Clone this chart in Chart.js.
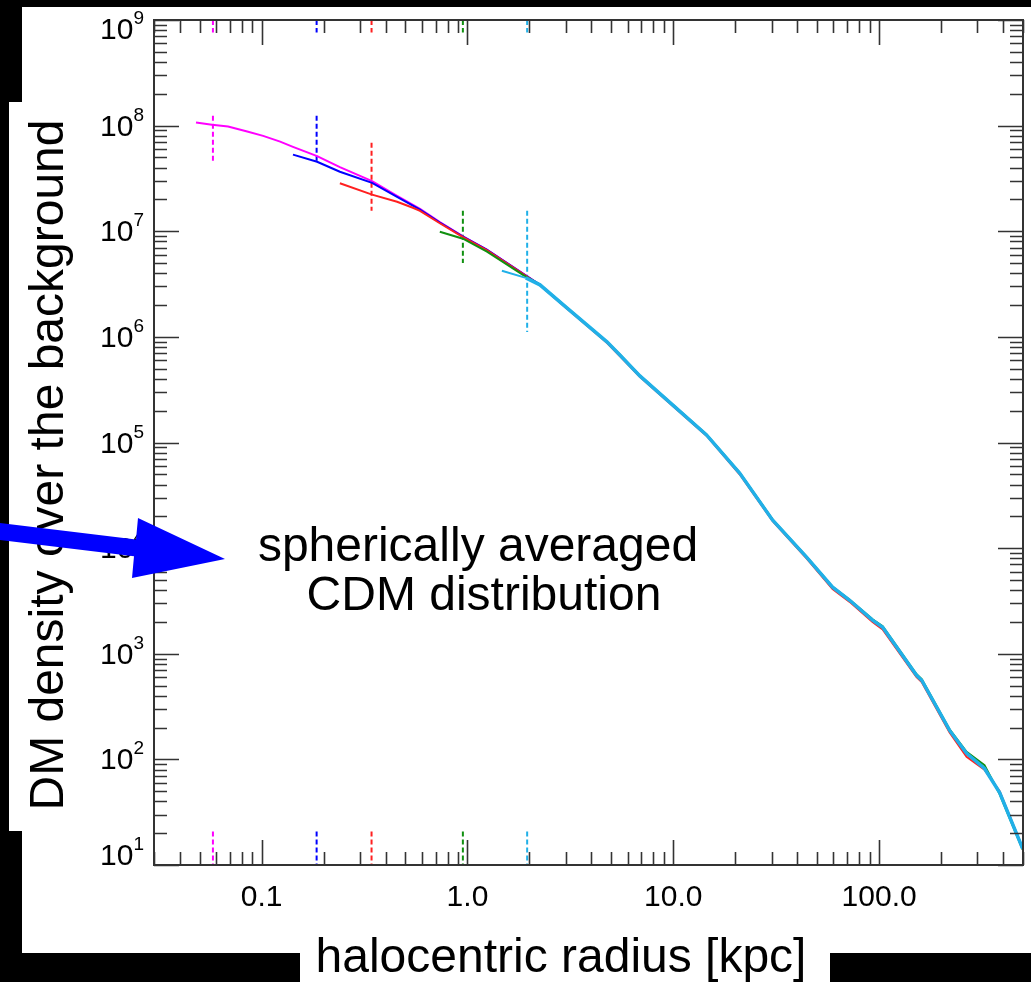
<!DOCTYPE html>
<html>
<head>
<meta charset="utf-8">
<script src="https://cdn.jsdelivr.net/npm/chart.js@4.4.0/dist/chart.umd.min.js"></script>
<style>
    html, body { margin: 0; padding: 0; background: #000; }
    canvas { display: block; }
</style>
</head>
<body>
<canvas id="profile" width="1031" height="982"></canvas>
<script>
// halocentric radius [kpc] / density over background
var magentaR   = [0.048, 0.0574, 0.0687, 0.0851, 0.1017, 0.123, 0.142, 0.168, 0.186, 0.24, 0.344, 0.455, 0.588, 0.734, 0.951, 1.24, 1.92];
var magentaRho = [1.07e8, 1.02e8, 9.8e7, 8.8e7, 8.0e7, 7.05e7, 6.3e7, 5.55e7, 5.15e7, 4.05e7, 2.98e7, 2.16e7, 1.63e7, 1.22e7, 8.95e6, 6.72e6, 3.82e6];
var blueR   = [0.142, 0.186, 0.24, 0.344, 0.455, 0.588, 0.734, 0.951, 1.24, 1.92];
var blueRho = [5.31e7, 4.55e7, 3.66e7, 2.87e7, 2.12e7, 1.60e7, 1.21e7, 8.9e6, 6.7e6, 3.8e6];
var redR   = [0.24, 0.344, 0.455, 0.543, 0.588, 0.734, 0.951, 1.24, 1.92];
var redRho = [2.85e7, 2.22e7, 1.90e7, 1.67e7, 1.56e7, 1.19e7, 8.8e6, 6.62e6, 3.78e6];
var greenR   = [0.734, 0.951, 1.244, 1.86];
var greenRho = [9.9e6, 8.5e6, 6.4e6, 3.87e6];
var cyanR   = [1.47, 1.92];
var cyanRho = [4.23e6, 3.62e6];

// outer part, where all runs lie on top of each other
var tailR        = [2.25, 3.04, 4.76, 5.50, 6.88, 9.95, 14.5, 21.0, 30.4, 44.4, 59.4, 71.9, 92.9, 104, 152, 161, 220, 266, 325, 385, 498];
var tailRho      = [3.11e6, 1.88e6, 8.97e5, 6.75e5, 4.27e5, 2.26e5, 1.18e5, 5.14e4, 1.84e4, 8.22e3, 4.27e3, 3.21e3, 2.08e3, 1.78e3, 625, 561, 188, 114, 82, 48.6, 14.3];
var redTailRho   = [3.08e6, 1.86e6, 8.8e5, 6.6e5, 4.2e5, 2.22e5, 1.16e5, 5.0e4, 1.80e4, 8.0e3, 4.1e3, 3.1e3, 2.0e3, 1.70e3, 600, 540, 180, 106, 80, 50, 14.5];
var greenTailRho = [3.13e6, 1.90e6, 9.0e5, 6.8e5, 4.3e5, 2.28e5, 1.19e5, 5.2e4, 1.86e4, 8.3e3, 4.3e3, 3.25e3, 2.12e3, 1.82e3, 640, 575, 192, 118, 88, 47, 14];

// dashed resolution markers
var markR    = [0.058, 0.185, 0.342, 0.95, 1.95];
var markLow  = [4.46e7, 4.55e7, 1.56e7, 5.0e6, 1.11e6];
var markHigh = [1.24e8, 1.24e8, 6.9e7, 1.56e7, 1.56e7];
var markTop    = [7.6e8, 1e9];
var markBottom = [10, 20.8];

var runColors = ['#ff00ff', '#0000ff', '#ff2020', '#109010', '#20b0e8'];

// axes
var xMin = 0.03, xMax = 500, yMin = 10, yMax = 1e9;
var xMajor = [0.1, 1, 10, 100];
var xLabels = ['0.1', '1.0', '10.0', '100.0'];
var yMajor = [10, 100, 1e3, 1e4, 1e5, 1e6, 1e7, 1e8, 1e9];
var yExp = ['1', '2', '3', '4', '5', '6', '7', '8', '9'];

var FONT = '"Liberation Sans", Arial, Helvetica, sans-serif';

function pts(r, rho) {
    var out = [];
    for (var i = 0; i < r.length; i++) out.push({x: r[i], y: rho[i]});
    return out;
}

function markPts(i) {
    var r = markR[i];
    return [
        {x: r, y: markTop[1]}, {x: r, y: markTop[0]}, {x: r, y: null},
        {x: r, y: markHigh[i]}, {x: r, y: markLow[i]}, {x: r, y: null},
        {x: r, y: markBottom[1]}, {x: r, y: markBottom[0]}
    ];
}

function run(label, data, color, width, order) {
    return {
        label: label, data: data, borderColor: color, borderWidth: width,
        pointRadius: 0, tension: 0, fill: false, order: order
    };
}

var cyanRun = run('cyan', pts(cyanR, cyanRho).concat(pts(tailR, tailRho)), runColors[4], 3.5, 0);
// the cyan run is thin where it starts off on its own
cyanRun.segment = {
    borderWidth: function (ctx) { return ctx.p0DataIndex === 0 ? 2 : 3.5; }
};

var datasets = [
    run('magenta', pts(magentaR, magentaRho).concat(pts(tailR, tailRho)), runColors[0], 2, 4),
    run('blue', pts(blueR, blueRho).concat(pts(tailR, tailRho)), runColors[1], 2, 3),
    run('red', pts(redR, redRho).concat(pts(tailR, redTailRho)), runColors[2], 2, 2),
    run('green', pts(greenR, greenRho).concat(pts(tailR, greenTailRho)), runColors[3], 2, 1),
    cyanRun
];
for (var m = 0; m < markR.length; m++) {
    datasets.push({
        label: 'mark' + m, data: markPts(m), borderColor: runColors[m], borderWidth: 2,
        borderDash: [5, 3], pointRadius: 0, spanGaps: false, order: 10
    });
}

function logTicks(min, max) {
    var list = [];
    for (var n = -3; n <= 10; n++) {
        for (var k = 1; k <= 9; k++) {
            var v = k * Math.pow(10, n);
            if (v >= min * 0.999 && v <= max * 1.001) list.push({v: v, major: k === 1});
        }
    }
    return list;
}

var decoration = {
    id: 'decoration',
    beforeDraw: function (chart) {
        var c = chart.ctx;
        c.save();
        c.fillStyle = '#000';
        c.fillRect(0, 0, chart.width, chart.height);
        c.fillStyle = '#fff';
        c.fillRect(22, 7, 1009, 946);
        c.fillRect(9, 102, 20, 729);
        c.fillRect(300, 950, 530, 32);
        c.restore();
    },
    afterDraw: function (chart) {
        var c = chart.ctx, a = chart.chartArea;
        var xs = chart.scales.x, ys = chart.scales.y;
        c.save();
        c.strokeStyle = '#333';
        c.lineWidth = 2;
        c.strokeRect(a.left, a.top, a.right - a.left, a.bottom - a.top);

        // inward ticks on all four sides
        c.lineWidth = 1.6;
        c.beginPath();
        logTicks(xMin, xMax).forEach(function (t) {
            var px = Math.round(xs.getPixelForValue(t.v)) + 0.5, len = t.major ? 25 : 13;
            c.moveTo(px, a.bottom); c.lineTo(px, a.bottom - len);
            c.moveTo(px, a.top); c.lineTo(px, a.top + len);
        });
        logTicks(yMin, yMax).forEach(function (t) {
            var py = Math.round(ys.getPixelForValue(t.v)) + 0.5, len = t.major ? 25 : 13;
            c.moveTo(a.left, py); c.lineTo(a.left + len, py);
            c.moveTo(a.right, py); c.lineTo(a.right - len, py);
        });
        c.stroke();

        // tick labels
        c.fillStyle = '#000';
        c.font = '30px ' + FONT;
        c.textAlign = 'center';
        c.textBaseline = 'alphabetic';
        xMajor.forEach(function (v, i) {
            c.fillText(xLabels[i], xs.getPixelForValue(v), a.bottom + 41);
        });
        yMajor.forEach(function (v, i) {
            var py = ys.getPixelForValue(v);
            var base = py + 10;
            // end labels are pushed inside the frame
            if (base - 21 < a.top - 2) base = a.top + 19;
            if (base > a.bottom) base = a.bottom;
            c.font = '19px ' + FONT;
            var ew = c.measureText(yExp[i]).width;
            c.textAlign = 'left';
            c.fillText(yExp[i], a.left - 10 - ew, base - 15);
            c.font = '30px ' + FONT;
            c.textAlign = 'right';
            c.fillText('10', a.left - 10 - ew, base);
        });

        // axis titles
        c.font = '48px ' + FONT;
        c.textAlign = 'center';
        c.fillText('halocentric radius [kpc]', 561, 972);
        c.save();
        c.translate(63, 465);
        c.rotate(-Math.PI / 2);
        c.fillText('DM density over the background', 0, 0);
        c.restore();

        // annotation
        c.fillText('spherically averaged', 478, 561);
        c.fillText('CDM distribution', 484, 610);

        // arrow
        c.fillStyle = '#0000ff';
        c.beginPath();
        c.moveTo(0, 523);
        c.lineTo(136, 539.6);
        c.lineTo(138, 518);
        c.lineTo(225, 559);
        c.lineTo(132, 578);
        c.lineTo(134, 556.3);
        c.lineTo(0, 540);
        c.closePath();
        c.fill();
        c.restore();
    }
};

var chart = new Chart(document.getElementById('profile').getContext('2d'), {
    type: 'line',
    data: {datasets: datasets},
    options: {
        responsive: false,
        animation: false,
        devicePixelRatio: 1,
        layout: {padding: {left: 154, right: 8, top: 20, bottom: 117}},
        plugins: {legend: {display: false}, tooltip: {enabled: false}},
        scales: {
            x: {type: 'logarithmic', min: xMin, max: xMax, display: false},
            y: {type: 'logarithmic', min: yMin, max: yMax, display: false}
        }
    },
    plugins: [decoration]
});
</script>
</body>
</html>
